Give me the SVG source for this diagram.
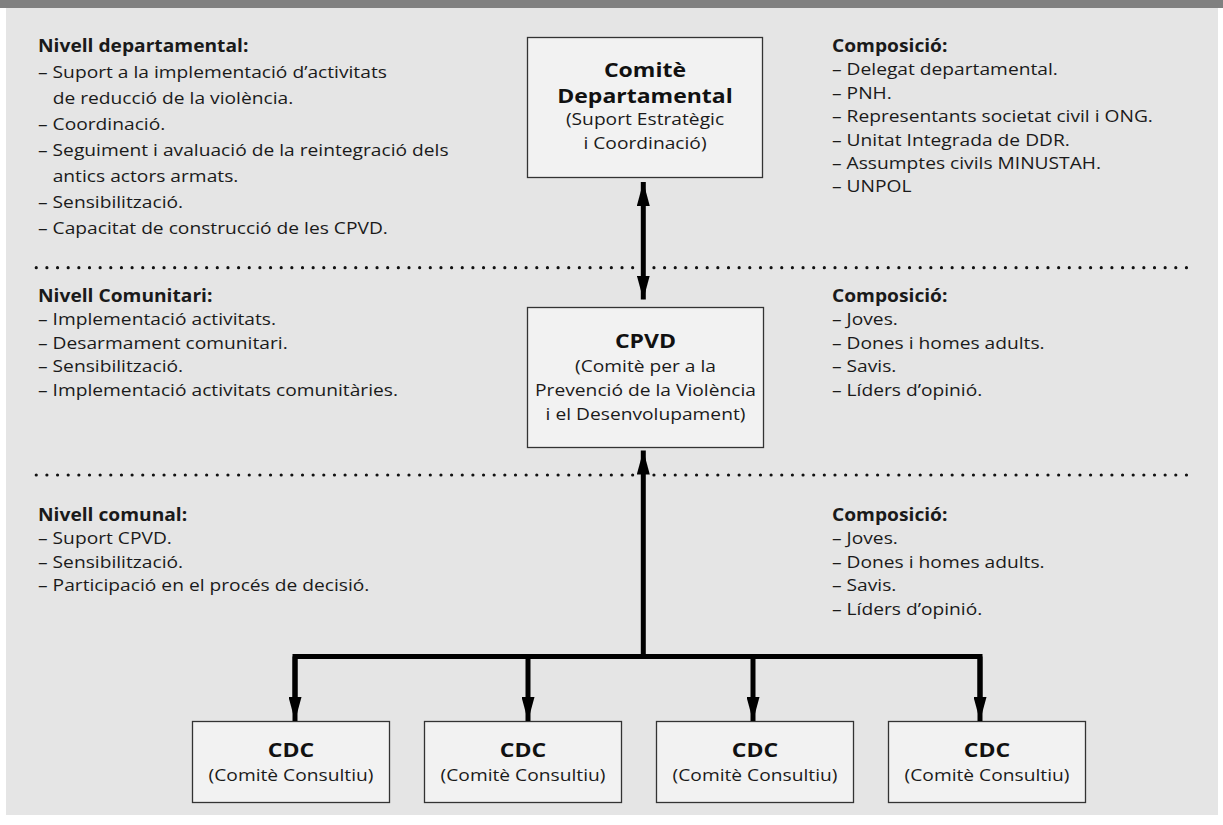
<svg xmlns="http://www.w3.org/2000/svg" width="1223" height="825" viewBox="0 0 1223 825">
  <defs>
    <style>
      .txt { font-family: "Open Sans", "Noto Sans", sans-serif; font-size: 17px; fill: #1a1a1a; }
      .hd { font-weight: 700; }
      .box { fill: #f2f2f2; stroke: #333333; stroke-width: 1.3; }
      .btitle { font-family: "Open Sans", "Noto Sans", sans-serif; font-size: 19.5px; font-weight: 700; fill: #111111; text-anchor: middle; }
      .bsub { font-family: "Open Sans", "Noto Sans", sans-serif; font-size: 17px; fill: #1a1a1a; text-anchor: middle; }
      .dots { stroke: #111111; stroke-width: 3.2; stroke-linecap: round; stroke-dasharray: 0 10.65; fill: none; }
      .wire { stroke: #000000; stroke-width: 5; fill: none; }
    </style>
    <marker id="head" viewBox="0 0 24 13" refX="24" refY="6.5" markerWidth="24" markerHeight="13" markerUnits="userSpaceOnUse" orient="auto-start-reverse">
      <path d="M0,0 L24,6.5 L0,13 Z" fill="#000000"/>
    </marker>
  </defs>

  <!-- page background and header strip -->
  <rect x="0" y="0" width="1223" height="825" fill="#ffffff"/>
  <rect x="6" y="0" width="1212" height="815" fill="#e5e5e5"/>
  <rect x="0" y="0" width="1223" height="8" fill="#808080"/>

  <!-- level separators -->
  <g id="separators">
    <line class="dots" x1="36.25" y1="267.7" x2="1190" y2="267.7"/>
    <line class="dots" x1="36.25" y1="475" x2="1190" y2="475"/>
  </g>

  <!-- text is set slightly wide (scaleX) to get a Frutiger-like set width -->

  <!-- departmental level -->
  <g id="dept-info" class="txt" transform="translate(38 0) scale(1.13 1)">
    <text x="0" y="52" class="hd">Nivell departamental:</text>
    <text x="0" y="78">– Suport a la implementació d’activitats</text>
    <text x="13" y="104">de reducció de la violència.</text>
    <text x="0" y="130">– Coordinació.</text>
    <text x="0" y="156">– Seguiment i avaluació de la reintegració dels</text>
    <text x="13" y="182">antics actors armats.</text>
    <text x="0" y="208">– Sensibilització.</text>
    <text x="0" y="234">– Capacitat de construcció de les CPVD.</text>
  </g>
  <g id="dept-composition" class="txt" transform="translate(832 0) scale(1.13 1)">
    <text x="0" y="52" class="hd">Composició:</text>
    <text x="0" y="75.4">– Delegat departamental.</text>
    <text x="0" y="98.8">– PNH.</text>
    <text x="0" y="122.2">– Representants societat civil i ONG.</text>
    <text x="0" y="145.6">– Unitat Integrada de DDR.</text>
    <text x="0" y="169">– Assumptes civils MINUSTAH.</text>
    <text x="0" y="192.4">– UNPOL</text>
  </g>
  <g id="comite-departamental">
    <rect class="box" x="527.5" y="37.5" width="235" height="140"/>
    <g transform="translate(645 0) scale(1.18 1)">
      <text class="btitle" x="0" y="77.5">Comitè</text>
      <text class="btitle" x="0" y="103">Departamental</text>
    </g>
    <g transform="translate(645 0) scale(1.13 1)">
      <text class="bsub" x="0" y="125.5">(Suport Estratègic</text>
      <text class="bsub" x="0" y="149">i Coordinació)</text>
    </g>
  </g>

  <!-- community level -->
  <g id="community-info" class="txt" transform="translate(38 0) scale(1.13 1)">
    <text x="0" y="302" class="hd">Nivell Comunitari:</text>
    <text x="0" y="325.5">– Implementació activitats.</text>
    <text x="0" y="349">– Desarmament comunitari.</text>
    <text x="0" y="372.5">– Sensibilització.</text>
    <text x="0" y="396">– Implementació activitats comunitàries.</text>
  </g>
  <g id="community-composition" class="txt" transform="translate(832 0) scale(1.13 1)">
    <text x="0" y="302" class="hd">Composició:</text>
    <text x="0" y="325.5">– Joves.</text>
    <text x="0" y="349">– Dones i homes adults.</text>
    <text x="0" y="372.5">– Savis.</text>
    <text x="0" y="396">– Líders d’opinió.</text>
  </g>
  <g id="cpvd">
    <rect class="box" x="527.5" y="307.5" width="236" height="140"/>
    <g transform="translate(645.5 0) scale(1.18 1)">
      <text class="btitle" x="0" y="348.5">CPVD</text>
    </g>
    <g transform="translate(645.5 0) scale(1.13 1)">
      <text class="bsub" x="0" y="372.5">(Comitè per a la</text>
      <text class="bsub" x="0" y="396.5">Prevenció de la Violència</text>
      <text class="bsub" x="0" y="420.5">i el Desenvolupament)</text>
    </g>
  </g>

  <!-- communal level -->
  <g id="communal-info" class="txt" transform="translate(38 0) scale(1.13 1)">
    <text x="0" y="521" class="hd">Nivell comunal:</text>
    <text x="0" y="544.4">– Suport CPVD.</text>
    <text x="0" y="567.8">– Sensibilització.</text>
    <text x="0" y="591.2">– Participació en el procés de decisió.</text>
  </g>
  <g id="communal-composition" class="txt" transform="translate(832 0) scale(1.13 1)">
    <text x="0" y="521" class="hd">Composició:</text>
    <text x="0" y="544.4">– Joves.</text>
    <text x="0" y="567.8">– Dones i homes adults.</text>
    <text x="0" y="591.2">– Savis.</text>
    <text x="0" y="614.6">– Líders d’opinió.</text>
  </g>

  <g id="cdc-1">
    <rect class="box" x="192.5" y="721.5" width="197" height="81"/>
    <g transform="translate(291 0) scale(1.18 1)"><text class="btitle" x="0" y="757">CDC</text></g>
    <g transform="translate(291 0) scale(1.13 1)"><text class="bsub" x="0" y="781">(Comitè Consultiu)</text></g>
  </g>
  <g id="cdc-2">
    <rect class="box" x="424.5" y="721.5" width="197" height="81"/>
    <g transform="translate(523 0) scale(1.18 1)"><text class="btitle" x="0" y="757">CDC</text></g>
    <g transform="translate(523 0) scale(1.13 1)"><text class="bsub" x="0" y="781">(Comitè Consultiu)</text></g>
  </g>
  <g id="cdc-3">
    <rect class="box" x="656.5" y="721.5" width="197" height="81"/>
    <g transform="translate(755 0) scale(1.18 1)"><text class="btitle" x="0" y="757">CDC</text></g>
    <g transform="translate(755 0) scale(1.13 1)"><text class="bsub" x="0" y="781">(Comitè Consultiu)</text></g>
  </g>
  <g id="cdc-4">
    <rect class="box" x="888.5" y="721.5" width="197" height="81"/>
    <g transform="translate(987 0) scale(1.18 1)"><text class="btitle" x="0" y="757">CDC</text></g>
    <g transform="translate(987 0) scale(1.13 1)"><text class="bsub" x="0" y="781">(Comitè Consultiu)</text></g>
  </g>

  <!-- connectors -->
  <g id="connectors">
    <line class="wire" x1="643.3" y1="182" x2="643.3" y2="299.5" marker-start="url(#head)" marker-end="url(#head)"/>
    <line class="wire" x1="643.3" y1="656.5" x2="643.3" y2="450.5" marker-end="url(#head)"/>
    <polyline class="wire" points="295,700 295,656.5 980,656.5 980,700" stroke-linejoin="miter"/>
    <line class="wire" x1="295" y1="656.5" x2="295" y2="721" marker-end="url(#head)"/>
    <line class="wire" x1="528" y1="656.5" x2="528" y2="721" marker-end="url(#head)"/>
    <line class="wire" x1="753" y1="656.5" x2="753" y2="721" marker-end="url(#head)"/>
    <line class="wire" x1="980" y1="656.5" x2="980" y2="721" marker-end="url(#head)"/>
  </g>
</svg>
